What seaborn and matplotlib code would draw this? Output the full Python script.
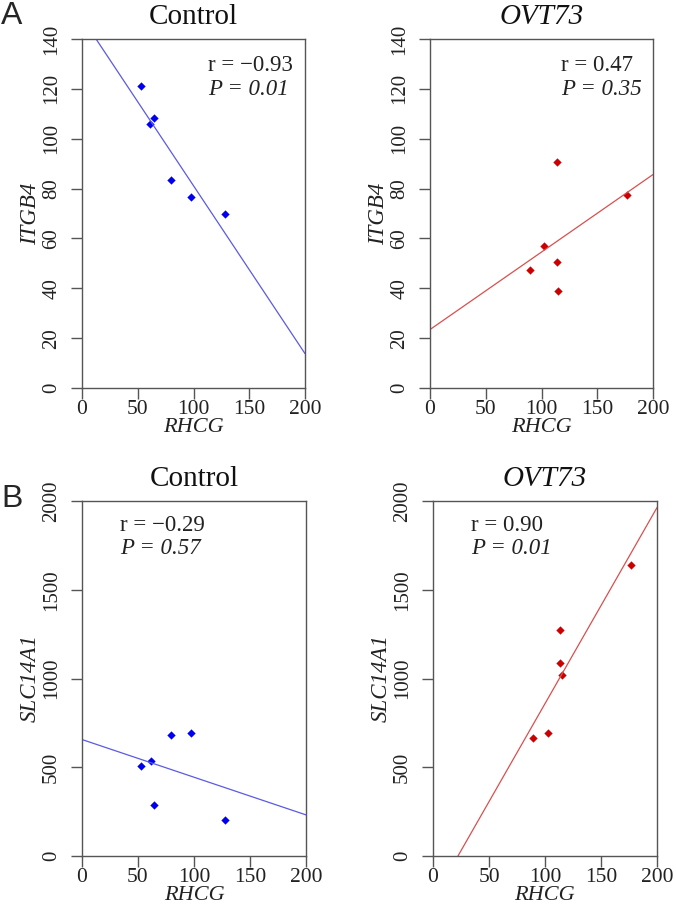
import matplotlib
matplotlib.use("Agg")
import matplotlib.pyplot as plt
import seaborn as sns

# values
ctrl_rhcg = [53.0, 61.4, 64.4, 79.6, 97.4, 128.0]
ctrl_itgb4 = [121.0, 105.8, 108.5, 83.4, 76.8, 69.6]
ctrl_slc14a1 = [505, 535, 290, 682, 693, 205]

ovt_rhcg = [89.7, 102.5, 113.6, 113.6, 115.0, 176.5]
ovt_itgb4 = [47.2, 57.0, 90.7, 50.4, 38.9, 77.5]
ovt_slc14a1 = [665, 692, 1272, 1090, 1017, 1639]

titles = ["Control", "OVT73", "Control", "OVT73"]
r_labels = ["r = \u22120.93", "r = 0.47", "r = \u22120.29", "r = 0.90"]
p_labels = ["P = 0.01", "P = 0.35", "P = 0.57", "P = 0.01"]

sns.set_theme(style="ticks")
plt.rcParams['font.family'] = ['Liberation Serif', 'DejaVu Serif']

fig = plt.figure(figsize=(6.76, 9.08), dpi=100)
W, H = 676, 908
rects = [
    [82 / W, 1 - 388 / H, 223 / W, 349 / H],
    [430 / W, 1 - 388 / H, 223 / W, 349 / H],
    [82 / W, 1 - 856 / H, 224 / W, 355 / H],
    [433 / W, 1 - 856 / H, 224 / W, 355 / H],
]
xs = [ctrl_rhcg, ovt_rhcg, ctrl_rhcg, ovt_rhcg]
ys = [ctrl_itgb4, ovt_itgb4, ctrl_slc14a1, ovt_slc14a1]
ylabels = ["ITGB4", "ITGB4", "SLC14A1", "SLC14A1"]
ylims = [(0, 140), (0, 140), (0, 2000), (0, 2000)]
yticks = [range(0, 141, 20), range(0, 141, 20), range(0, 2001, 500), range(0, 2001, 500)]
pt_colors = ["#0000ee", "#cc0000", "#0000ee", "#cc0000"]
ln_colors = ["#5a5ae6", "#d85050", "#5a5ae6", "#d85050"]
txt_pos = [(0.566, 0.925, 0.854), (0.586, 0.925, 0.854),
           (0.17, 0.932, 0.866), (0.168, 0.932, 0.866)]

for i in range(4):
    ax = fig.add_axes(rects[i])
    ax.set_xlim(0, 200)
    ax.set_ylim(*ylims[i])
    sns.regplot(x=xs[i], y=ys[i], ax=ax, ci=None, truncate=False, marker='D',
                color=pt_colors[i],
                scatter_kws={'s': 18, 'linewidths': 0, 'color': pt_colors[i], 'alpha': 1},
                line_kws={'lw': 0.9, 'color': ln_colors[i]})
    ax.set_xlim(0, 200)
    ax.set_ylim(*ylims[i])
    ax.set_xticks(range(0, 201, 50))
    ax.set_yticks(list(yticks[i]))
    for s in ax.spines.values():
        s.set_color('#555555')
        s.set_linewidth(1.0)
    ax.tick_params(axis='both', direction='out', length=8, width=1.0, color='#555555',
                   labelcolor='#222222')
    ax.tick_params(axis='x', labelsize=15.5, pad=1)
    ax.tick_params(axis='y', labelsize=15, pad=7)
    for lab in ax.get_yticklabels():
        lab.set_rotation(90)
        lab.set_va('center')
    ax.set_xlabel("RHCG", fontsize=16, style='italic', labelpad=-1, color='#222222')
    ax.set_ylabel(ylabels[i], fontsize=16.5, style='italic', labelpad=1, color='#222222')
    ax.set_title(titles[i], fontsize=21, pad=11, color='#111111',
                 style='italic' if titles[i] == "OVT73" else 'normal')
    tx, ty1, ty2 = txt_pos[i]
    ax.text(tx, ty1, r_labels[i], transform=ax.transAxes, fontsize=16.5,
            va='center', ha='left', color='#222222')
    ax.text(tx, ty2, p_labels[i], transform=ax.transAxes, fontsize=16.5,
            va='center', ha='left', style='italic', color='#222222')

fig.text(1 / W, 1 - 1 / H, "A", fontsize=23, family='Liberation Sans', va='top', ha='left')
fig.text(1 / W, 1 - 484 / H, "B", fontsize=23, family='Liberation Sans', va='top', ha='left')

fig.savefig("out.png", dpi=100)
